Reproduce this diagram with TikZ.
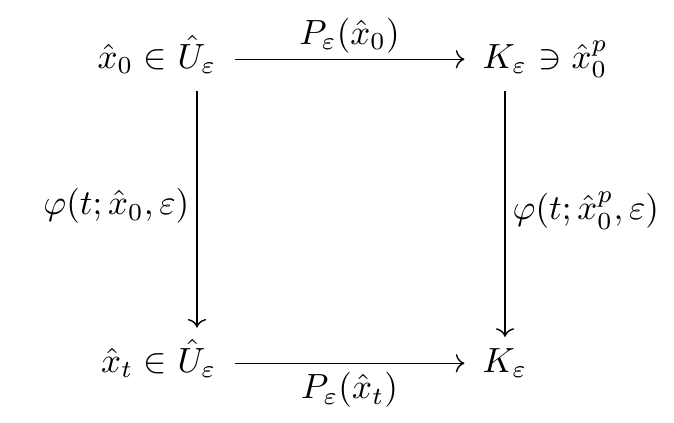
\documentclass[tikz,border=0pt]{standalone}
\usepackage{amsmath,amssymb}
\usepackage{tikz}
\usetikzlibrary{arrows.meta,positioning,calc}

\begin{document}
\begin{tikzpicture}[
  x=0.2857pt, y=-0.2857pt,
  obj/.style={inner sep=0pt, anchor=base},
  arr/.style={->, shorten <=5pt, shorten >=5pt},
  varr/.style={arr, shorten >=3pt},
  hlab/.style={inner sep=2.5pt},
  vlab/.style={inner sep=2pt}
]
\useasboundingbox (0,0) rectangle (674,422);

\node[obj] (U0) at (197,68) {$\hat{U}_\varepsilon$};
\node[obj, anchor=base east] (x0) at (U0.base west) {$\hat{x}_0\in{}$};
\node[obj] (K0) at (505,68) {$K_\varepsilon$};
\node[obj, anchor=base west] (xp) at (K0.base east) {${}\ni\hat{x}_0^p$};

\node[obj] (Ut) at (197,372) {$\hat{U}_\varepsilon$};
\node[obj, anchor=base east] (xt) at (Ut.base west) {$\hat{x}_t\in{}$};
\node[obj] (Kt) at (505,372) {$K_\varepsilon$};

\draw[arr] ([yshift=2.5pt]U0.base east) -- ([yshift=2.5pt]K0.base west)
  node[midway,above,hlab,inner sep=1.5pt]{$P_\varepsilon(\hat{x}_0)$};
\draw[arr] ([yshift=2.5pt]Ut.base east) -- ([yshift=2.5pt]Kt.base west)
  node[midway,below,hlab]{$P_\varepsilon(\hat{x}_t)$};
\draw[varr] (U0) -- (Ut) node[midway,left,vlab]{$\varphi(t;\hat{x}_0,\varepsilon)$};
\draw[varr] (K0) -- (Kt) node[midway,right,vlab]{$\varphi(t;\hat{x}_0^p,\varepsilon)$};
\end{tikzpicture}
\end{document}
